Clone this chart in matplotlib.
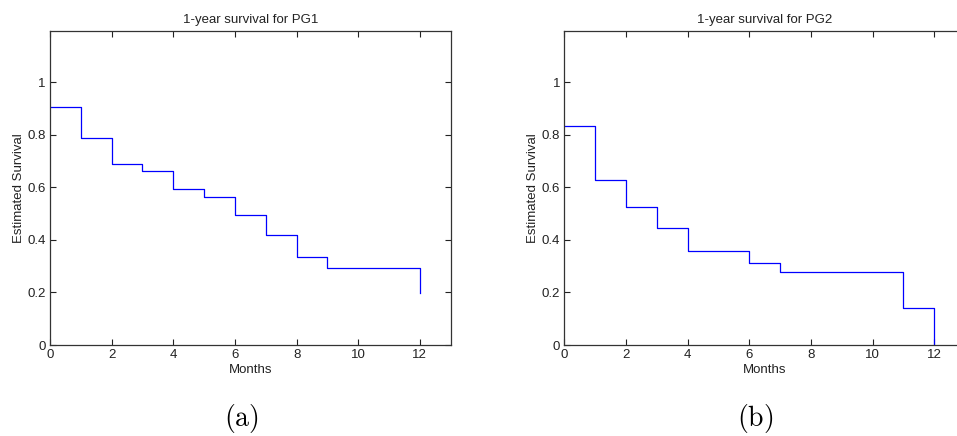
import matplotlib
matplotlib.use('Agg')
import matplotlib.pyplot as plt

plt.rcParams['font.family'] = ['Liberation Sans', 'DejaVu Sans']
plt.rcParams['mathtext.fontset'] = 'cm'

# Kaplan-Meier style step values
pg1_months = [0, 1, 2, 3, 4, 5, 6, 7, 8, 9, 12]
pg1_survival = [0.905, 0.786, 0.690, 0.660, 0.594, 0.561, 0.493, 0.417, 0.336, 0.294, 0.197]

pg2_months = [0, 1, 2, 3, 4, 6, 7, 11, 12]
pg2_survival = [0.831, 0.629, 0.524, 0.444, 0.356, 0.313, 0.276, 0.140, 0.0]

x_ticks = [0, 2, 4, 6, 8, 10, 12]
y_ticks = [0, 0.2, 0.4, 0.6, 0.8, 1.0]
y_tick_labels = ['0', '0.2', '0.4', '0.6', '0.8', '1']

panels = [
    ('1-year survival for PG1', pg1_months, pg1_survival, 50, '(a)', 241),
    ('1-year survival for PG2', pg2_months, pg2_survival, 564.3, '(b)', 755),
]

W, H = 957, 436
fig = plt.figure(figsize=(W / 100, H / 100), dpi=100)

for title, months, surv, left_px, tag, tag_x in panels:
    ax = fig.add_axes([left_px / W, (H - 345) / H, 400.7 / W, 314 / H])
    ax.step(months, surv, where='post', color='#0000ff', lw=0.9)
    ax.set_xlim(0, 13)
    ax.set_ylim(0, 1.194)
    ax.set_xticks(x_ticks)
    ax.set_yticks(y_ticks)
    ax.set_yticklabels(y_tick_labels)
    ax.tick_params(direction='in', top=True, right=True, length=4, width=0.8,
                   labelsize=9.5, pad=3, colors='#222222')
    for sp in ax.spines.values():
        sp.set_linewidth(0.9)
        sp.set_color('#333333')
    ax.set_title(title, fontsize=9.5, pad=6, color='#222222')
    ax.set_xlabel('Months', fontsize=9.5, labelpad=2, color='#222222')
    ax.set_ylabel('Estimated Survival', fontsize=9.5, labelpad=2, color='#222222')
    fig.text(tag_x / W, 1 - 418 / H, r'$\mathrm{' + tag + '}$', fontsize=20,
             ha='center', va='center')

fig.savefig('out.png', dpi=100)
